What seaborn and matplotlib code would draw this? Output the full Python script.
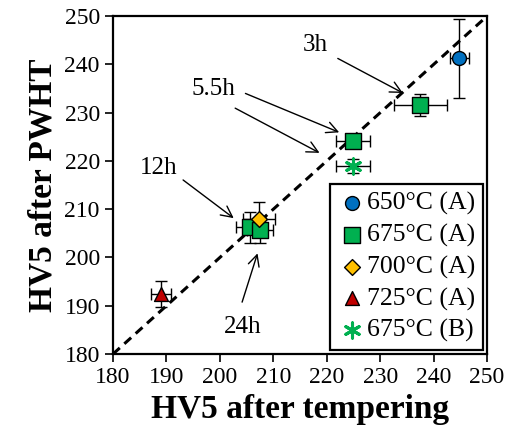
import pandas as pd
import matplotlib
matplotlib.use("Agg")
import matplotlib.pyplot as plt
import seaborn as sns

# data
series = ["650°C (A)", "675°C (A)", "700°C (A)", "725°C (A)", "675°C (B)"]
hv_temp = [[244.8], [237.5, 224.9, 205.6, 207.5], [207.3], [189.0], [224.9]]
hv_pwht = [[241.3], [231.6, 224.1, 206.3, 205.7], [208.0], [192.5], [219.0]]
xerr = [[1.8], [5.0, 3.1, 2.5, 2.5], [3.0], [1.9], [3.1]]
yerr = [[8.2], [2.3, 1.0, 3.2, 2.7], [3.5], [2.7], [1.5]]

colors = ["#0070C0", "#00B050", "#FFC000", "#C00000", "#00B050"]
markers = ["o", "s", "D", "^", (6, 2, 0)]
sizes = [100, 120, 65, 100, 120]

# annotations: label, text position, arrow start, arrow end
labels = ["3h", "5.5h", "5.5h", "12h", "24h"]
text_xy = [(217.8, 244.0), (198.7, 234.9), None, (188.6, 218.5), (204.3, 185.7)]
arrow_from = [(221.6, 241.5), (204.3, 234.2), (202.4, 231.2), (192.7, 216.4), (204.0, 190.2)]
arrow_to = [(234.7, 233.8), (222.8, 225.7), (219.1, 221.4), (203.0, 207.8), (207.2, 201.4)]

sns.set_style("ticks")
plt.rcParams["font.family"] = ["Liberation Serif", "DejaVu Serif"]
plt.rcParams["text.color"] = "black"
plt.rcParams["axes.labelcolor"] = "black"
plt.rcParams["xtick.color"] = "black"
plt.rcParams["ytick.color"] = "black"

fig = plt.figure(figsize=(5.09, 4.47), dpi=100)
ax = fig.add_axes([0.222, 0.208, 0.735, 0.756])

# 1:1 line
ax.plot([180, 250], [180, 250], ls=(0, (3, 2)), color="black", lw=2.2, zorder=1)

for i, name in enumerate(series):
    df = pd.DataFrame({"x": hv_temp[i], "y": hv_pwht[i]})
    ax.errorbar(df["x"], df["y"], xerr=xerr[i], yerr=yerr[i], fmt="none",
                ecolor="black", elinewidth=1, capsize=4, capthick=1, zorder=2)
    if i == 4:
        sns.scatterplot(data=df, x="x", y="y", ax=ax, marker=markers[i], s=sizes[i],
                        color=colors[i], linewidth=2.2, label=name, zorder=3)
    else:
        sns.scatterplot(data=df, x="x", y="y", ax=ax, marker=markers[i], s=sizes[i],
                        color=colors[i], edgecolor="black", linewidth=1, label=name, zorder=3)

for lab, txt, a0, a1 in zip(labels, text_xy, arrow_from, arrow_to):
    if txt is not None:
        ax.text(txt[0], txt[1], lab, fontsize=18, ha="center", va="center")
    ax.annotate("", xy=a1, xytext=a0,
                arrowprops=dict(arrowstyle="->", color="black", lw=1, mutation_scale=20))

ax.set_xlim(180, 250)
ax.set_ylim(180, 250)
ax.set_xticks(range(180, 251, 10))
ax.set_yticks(range(180, 251, 10))
ax.tick_params(direction="out", length=6, width=1.2, labelsize=17)
for sp in ax.spines.values():
    sp.set_linewidth(1.6)
    sp.set_color("black")

ax.set_xlabel("HV5 after tempering", fontsize=24, fontweight="bold", labelpad=4)
ax.set_ylabel("HV5 after PWHT", fontsize=24, fontweight="bold", labelpad=4)

leg = ax.legend(loc="lower right", fontsize=18.5, frameon=True, fancybox=False,
                framealpha=1, edgecolor="black", handletextpad=0.05, borderpad=0.3,
                labelspacing=0.33, handlelength=1.1, borderaxespad=0.15)
leg.get_frame().set_linewidth(1.6)

fig.savefig("out.png", dpi=100)
